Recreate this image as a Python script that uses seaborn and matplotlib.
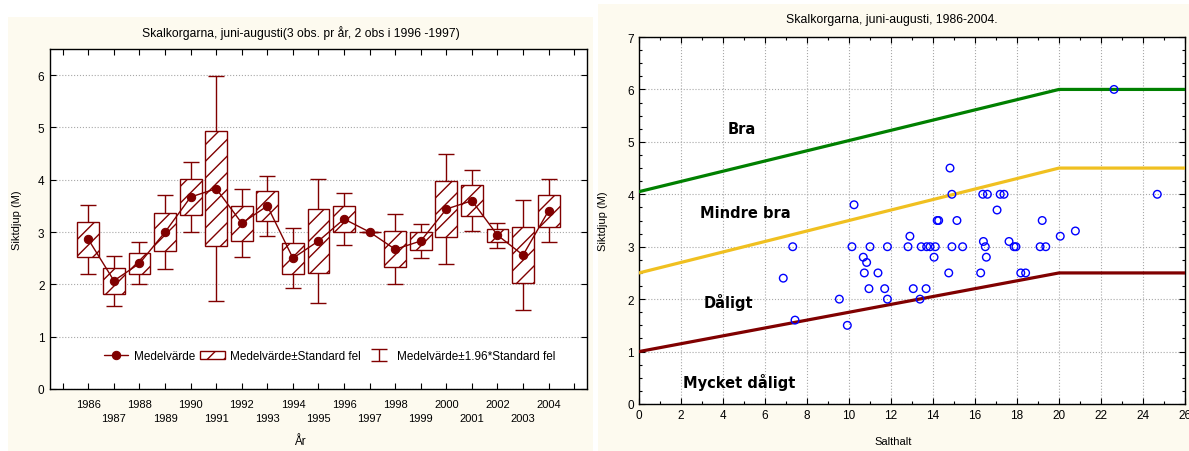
import seaborn as sns
import matplotlib.pyplot as plt
import numpy as np
from matplotlib.patches import Rectangle
from matplotlib.ticker import MultipleLocator

# vänster: medelvärde och standardfel per år
years = list(range(1986, 2005))
mean_depth = [2.86, 2.07, 2.40, 3.00, 3.67, 3.83, 3.17, 3.50, 2.50, 2.83,
              3.25, 3.00, 2.67, 2.83, 3.44, 3.60, 2.94, 2.56, 3.41]
se_depth = [0.34, 0.245, 0.205, 0.363, 0.337, 1.10, 0.332, 0.29, 0.294, 0.604,
            0.25, 0.0, 0.342, 0.17, 0.535, 0.30, 0.124, 0.54, 0.307]

# höger: salthalt mot siktdjup
salthalt = [6.87, 7.32, 7.43, 9.54, 9.92, 10.14, 10.24, 10.68, 10.84, 10.73,
            10.95, 11.0, 11.38, 11.7, 11.83, 11.83, 12.81, 12.9, 13.06, 13.38,
            13.44, 13.67, 13.7, 13.86, 14.05, 14.11, 14.2, 14.27, 14.75, 14.81,
            14.9, 14.9, 15.14, 15.41, 16.27, 16.37, 16.4, 16.49, 16.54, 16.59,
            17.05, 17.2, 17.38, 17.62, 17.86, 17.95, 18.18, 18.41, 19.1, 19.2,
            19.37, 20.06, 20.78, 22.62, 24.68]
siktdjup = [2.4, 3.0, 1.6, 2.0, 1.5, 3.0, 3.8, 2.8, 2.7, 2.5,
            2.2, 3.0, 2.5, 2.2, 3.0, 2.0, 3.0, 3.2, 2.2, 2.0,
            3.0, 2.2, 3.0, 3.0, 2.8, 3.0, 3.5, 3.5, 2.5, 4.5,
            4.0, 3.0, 3.5, 3.0, 2.5, 4.0, 3.1, 3.0, 2.8, 4.0,
            3.7, 4.0, 4.0, 3.1, 3.0, 3.0, 2.5, 2.5, 3.0, 3.5,
            3.0, 3.2, 3.3, 6.0, 4.0]

# klassgränser
grans_x = [0, 20, 26]
grans_bra = [4.05, 6.0, 6.0]
grans_mindre = [2.5, 4.5, 4.5]
grans_daligt = [1.0, 2.5, 2.5]

W, H = 1189, 452
red = '#800000'
cream = '#fdfaef'

sns.set_style('ticks')
plt.rcParams['font.family'] = ['Liberation Sans', 'DejaVu Sans']
plt.rcParams['hatch.color'] = red
plt.rcParams['hatch.linewidth'] = 1.0
for k in ['text.color', 'axes.labelcolor', 'xtick.color', 'ytick.color', 'axes.edgecolor']:
    plt.rcParams[k] = 'black'

fig = plt.figure(figsize=(W / 100, H / 100), dpi=100, facecolor='white')
fig.patches.append(Rectangle((8 / W, 0), 585 / W, (H - 18) / H, transform=fig.transFigure,
                             facecolor=cream, edgecolor='none', zorder=-10))
fig.patches.append(Rectangle((598 / W, 0), 591 / W, (H - 5) / H, transform=fig.transFigure,
                             facecolor=cream, edgecolor='none', zorder=-10))

# ---------- vänster diagram ----------
ax1 = fig.add_axes([50 / W, 62 / H, 537 / W, 340 / H])
ax1.set_facecolor('white')
mean_a = np.array(mean_depth)
se_a = np.array(se_depth)

eb = ax1.errorbar(years, mean_a, yerr=1.96 * se_a, fmt='none', ecolor=red, elinewidth=1,
                  capsize=5.5, capthick=1, zorder=2)
bars = ax1.bar(years, 2 * se_a, bottom=mean_a - se_a, width=0.85, facecolor='white',
               edgecolor=red, hatch='//', linewidth=1, zorder=3)
sns.lineplot(x=years, y=mean_depth, ax=ax1, color=red, marker='o', markersize=6,
             markeredgecolor=red, linewidth=1, zorder=4)
line = ax1.get_lines()[-1]

ax1.set_xlim(1984.5, 2005.5)
ax1.set_ylim(0, 6.5)
ax1.set_xticks(range(1985, 2006))
xt = []
for y in range(1985, 2006):
    if y < 1986 or y > 2004:
        xt.append('')
    elif y % 2 == 0:
        xt.append(str(y))
    else:
        xt.append('\n' + str(y))
ax1.set_xticklabels(xt, fontsize=8)
for t in ax1.get_xticklabels():
    t.set_linespacing(1.5)
ax1.set_yticks(range(0, 7))
ax1.tick_params(axis='y', labelsize=8.5, pad=4)
ax1.tick_params(axis='x', pad=7)
ax1.tick_params(direction='in', top=True, right=True, length=4, width=0.8)
ax1.yaxis.grid(True, linestyle=':', color='#a8a8a8', linewidth=0.8)
ax1.set_axisbelow(True)
for s in ax1.spines.values():
    s.set_linewidth(1)
ax1.set_xlabel('År', fontsize=8.5)
ax1.set_ylabel('Siktdjup (M)', fontsize=8)
ax1.xaxis.set_label_coords(0.466, -0.135)
ax1.yaxis.set_label_coords(-0.052, 0.5)
ax1.legend([line, bars, eb],
           ['Medelvärde', 'Medelvärde±Standard fel', 'Medelvärde±1.96*Standard fel'],
           loc='center', bbox_to_anchor=(0.52, 0.097), ncol=3, frameon=False,
           fontsize=8.5, handlelength=2.1, columnspacing=0.45, handletextpad=0.45)
fig.text(301 / W, 1 - 33 / H, 'Skalkorgarna, juni-augusti(3 obs. pr år, 2 obs i 1996 -1997)',
         ha='center', va='center', fontsize=8.7)

# ---------- höger diagram ----------
ax2 = fig.add_axes([639 / W, 47 / H, 546 / W, 367 / H])
ax2.set_facecolor('white')
sns.lineplot(x=grans_x, y=grans_bra, ax=ax2, color='#008000', linewidth=2.3, zorder=3)
sns.lineplot(x=grans_x, y=grans_mindre, ax=ax2, color='#f0c020', linewidth=2.3, zorder=3)
sns.lineplot(x=grans_x, y=grans_daligt, ax=ax2, color=red, linewidth=2.3, zorder=3)
sns.scatterplot(x=salthalt, y=siktdjup, ax=ax2, facecolors='none', edgecolor='#0000ff',
                linewidth=1, s=30, zorder=4)

ax2.set_xlim(0, 26)
ax2.set_ylim(0, 7)
ax2.set_xticks(range(0, 27, 2))
ax2.xaxis.set_minor_locator(MultipleLocator(1))
ax2.set_yticks(range(0, 8))
ax2.yaxis.set_minor_locator(MultipleLocator(0.25))
ax2.tick_params(axis='both', labelsize=8.5)
ax2.tick_params(which='both', direction='in', top=True, right=True, width=0.8)
ax2.tick_params(which='major', length=4)
ax2.tick_params(which='minor', length=2.5)
ax2.grid(True, which='major', linestyle=':', color='#a8a8a8', linewidth=0.8)
ax2.set_axisbelow(True)
for s in ax2.spines.values():
    s.set_linewidth(1)
ax2.set_xlabel('Salthalt', fontsize=8)
ax2.set_ylabel('Siktdjup (M)', fontsize=8)
ax2.xaxis.set_label_coords(0.465, -0.087)
ax2.yaxis.set_label_coords(-0.057, 0.5)

zon_font = dict(fontsize=10.5, fontweight='bold', va='center', color='black',
                family=['DejaVu Sans'])
ax2.text(4.2, 5.25, 'Bra', **zon_font)
ax2.text(2.9, 3.66, 'Mindre bra', **zon_font)
ax2.text(3.1, 1.95, 'Dåligt', **zon_font)
ax2.text(2.1, 0.42, 'Mycket dåligt', **zon_font)
fig.text(892 / W, 1 - 20 / H, 'Skalkorgarna, juni-augusti, 1986-2004.',
         ha='center', va='center', fontsize=8.8)

fig.savefig('out.png', dpi=100, facecolor=fig.get_facecolor())
